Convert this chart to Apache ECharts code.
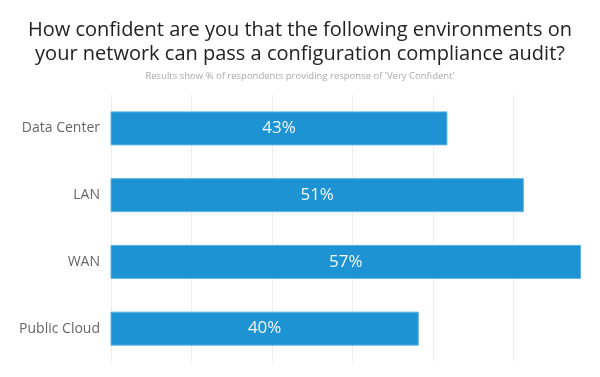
<!DOCTYPE html>
<html>
<head>
<meta charset="utf-8">
<script src="https://cdn.jsdelivr.net/npm/echarts@6/dist/echarts.min.js"></script>
<style>
  html, body { margin: 0; padding: 0; background: #fff; }
  #container { width: 600px; height: 377px; }
</style>
</head>
<body>
<div id="container"></div>
<script>
const categories = ['Data Center', 'LAN', 'WAN', 'Public Cloud'];
const veryConfident = [43, 51, 57, 40];

let chart = echarts.init(document.getElementById('container'));

let option = {
  backgroundColor: '#fff',
  animation: false,
  title: {
    text: 'How confident are you that the following environments on\nyour network can pass a configuration compliance audit?',
    subtext: "Results show % of respondents providing response of 'Very Confident'",
    left: 'center',
    top: 13,
    itemGap: 5,
    textStyle: {
      fontFamily: 'Open Sans',
      fontWeight: 'normal',
      fontSize: 20,
      lineHeight: 24,
      color: '#222',
    },
    subtextStyle: {
      fontFamily: 'Open Sans',
      fontSize: 9.5,
      color: '#aaa',
    },
  },
  grid: {
    left: 111,
    right: 6,
    top: 95,
    bottom: 15,
    containLabel: false,
  },
  xAxis: [
    {
      // bars axis, range picked so bar ends sit where the picture has them
      type: 'value',
      min: 7.77,
      max: 58.35,
      axisLine: { show: false },
      axisTick: { show: false },
      axisLabel: { show: false },
      splitLine: { show: false },
    },
    {
      // gridlines only
      type: 'value',
      min: 0,
      max: 6,
      interval: 1,
      axisLine: { show: false },
      axisTick: { show: false },
      axisLabel: { show: false },
      splitLine: {
        show: true,
        showMaxLine: false,
        lineStyle: { color: '#eeeeee', width: 1 },
      },
    },
  ],
  yAxis: {
    type: 'category',
    data: categories,
    inverse: true,
    axisLine: { show: false },
    axisTick: { show: false },
    axisLabel: {
      margin: 11,
      fontFamily: 'Open Sans',
      fontSize: 14,
      color: '#666',
    },
  },
  series: [
    {
      type: 'bar',
      xAxisIndex: 0,
      data: veryConfident,
      barWidth: 34,
      itemStyle: {
        color: '#1e93d3',
        borderColor: '#5db3e4',
        borderWidth: 1,
      },
      label: {
        show: true,
        position: 'inside',
        formatter: '{c}%',
        fontFamily: 'Open Sans',
        fontSize: 17,
        color: '#f4f9fd',
      },
    },
  ],
};

chart.setOption(option);
</script>
</body>
</html>
